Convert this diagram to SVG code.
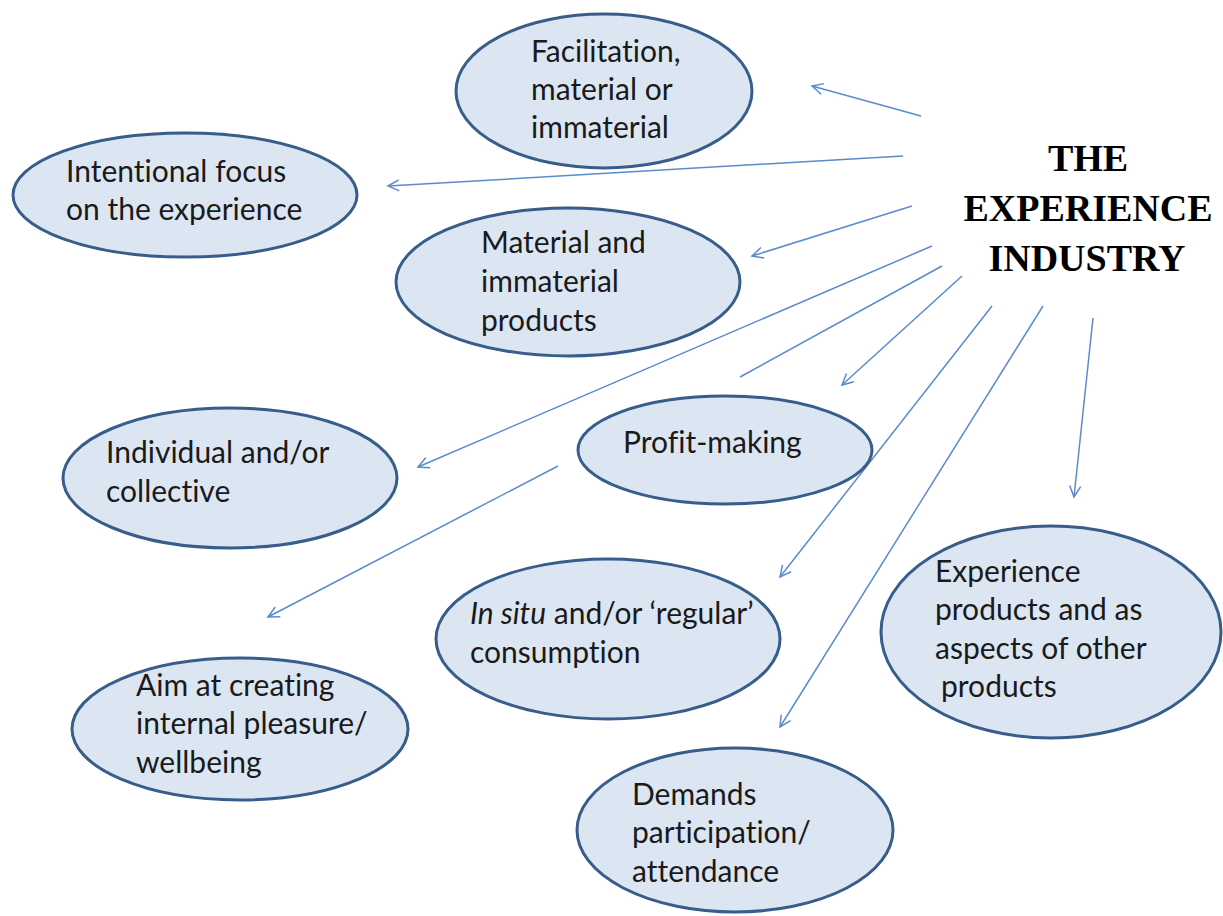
<svg xmlns="http://www.w3.org/2000/svg" width="1223" height="916" viewBox="0 0 1223 916">
  <style>
    .node ellipse { fill: #DCE6F2; stroke: #385D8A; stroke-width: 3; }
    .node text { font-family: Lato, "Open Sans", sans-serif; font-size: 30px; fill: #1a1a1a; font-variant-ligatures: none; }
    .title { font-family: "Liberation Serif", "Times New Roman", serif; font-weight: bold; font-size: 38px; fill: #000; text-anchor: middle; }
    .conn line { stroke: #5B8BCB; stroke-width: 1.5; fill: none; }
    .conn line.arrow { marker-end: url(#ah); }
  </style>
  <defs>
    <marker id="ah" viewBox="-13 -7 15 14" refX="0" refY="0" markerWidth="15" markerHeight="14" markerUnits="userSpaceOnUse" orient="auto">
      <path d="M-11,-5.5 L0,0 L-11,5.5" fill="none" stroke="#5B8BCB" stroke-width="1.5"/>
    </marker>
  </defs>
  <rect width="1223" height="916" fill="#fff"/>

  <!-- connectors radiating from the title -->
  <g id="connectors" class="conn">
    <line class="arrow" x1="921" y1="116" x2="812" y2="86"/>
    <line class="arrow" x1="903" y1="156" x2="388" y2="186"/>
    <line class="arrow" x1="912" y1="206" x2="752" y2="256"/>
    <line class="arrow" x1="932" y1="246" x2="418" y2="467"/>
    <line x1="942" y1="266" x2="740" y2="377"/>
    <line class="arrow" x1="558" y1="466" x2="268" y2="617"/>
    <line class="arrow" x1="962" y1="276" x2="842" y2="385"/>
    <line class="arrow" x1="992" y1="306" x2="780" y2="577"/>
    <line class="arrow" x1="1043" y1="306" x2="780" y2="727"/>
    <line class="arrow" x1="1093" y1="318" x2="1074" y2="497"/>
  </g>

  <g id="title">
    <text class="title" x="1088" y="171">THE</text>
    <text class="title" x="1088" y="221">EXPERIENCE</text>
    <text class="title" x="1087" y="271">INDUSTRY</text>
  </g>

  <g id="facilitation" class="node">
    <ellipse cx="604" cy="91" rx="148" ry="77"/>
    <text x="531" y="62">Facilitation,</text>
    <text x="531" y="100">material or</text>
    <text x="531" y="138">immaterial</text>
  </g>

  <g id="intentional-focus" class="node">
    <ellipse cx="185" cy="195" rx="172" ry="62"/>
    <text x="66" y="182">Intentional focus</text>
    <text x="66" y="220">on the experience</text>
  </g>

  <g id="material-products" class="node">
    <ellipse cx="568" cy="282" rx="172" ry="74"/>
    <text x="481" y="253">Material and</text>
    <text x="481" y="292">immaterial</text>
    <text x="481" y="331">products</text>
  </g>

  <g id="individual-collective" class="node">
    <ellipse cx="230" cy="478" rx="167" ry="70"/>
    <text x="106" y="463">Individual and/or</text>
    <text x="106" y="502">collective</text>
  </g>

  <g id="profit-making" class="node">
    <ellipse cx="725" cy="450" rx="147" ry="54"/>
    <text x="623" y="453">Profit-making</text>
  </g>

  <g id="in-situ" class="node">
    <ellipse cx="608" cy="639" rx="172" ry="80"/>
    <text x="470" y="624"><tspan font-style="italic">In situ</tspan> and/or ‘regular’</text>
    <text x="470" y="663">consumption</text>
  </g>

  <g id="internal-pleasure" class="node">
    <ellipse cx="240" cy="729" rx="168" ry="71"/>
    <text x="136" y="696">Aim at creating</text>
    <text x="136" y="734">internal pleasure/</text>
    <text x="136" y="773">wellbeing</text>
  </g>

  <g id="participation" class="node">
    <ellipse cx="735" cy="830" rx="158" ry="82"/>
    <text x="632" y="805">Demands</text>
    <text x="632" y="843">participation/</text>
    <text x="632" y="882">attendance</text>
  </g>

  <g id="experience-products" class="node">
    <ellipse cx="1051" cy="632" rx="170" ry="106"/>
    <text x="935" y="582">Experience</text>
    <text x="935" y="620">products and as</text>
    <text x="935" y="659">aspects of other</text>
    <text x="941" y="697">products</text>
  </g>
</svg>
